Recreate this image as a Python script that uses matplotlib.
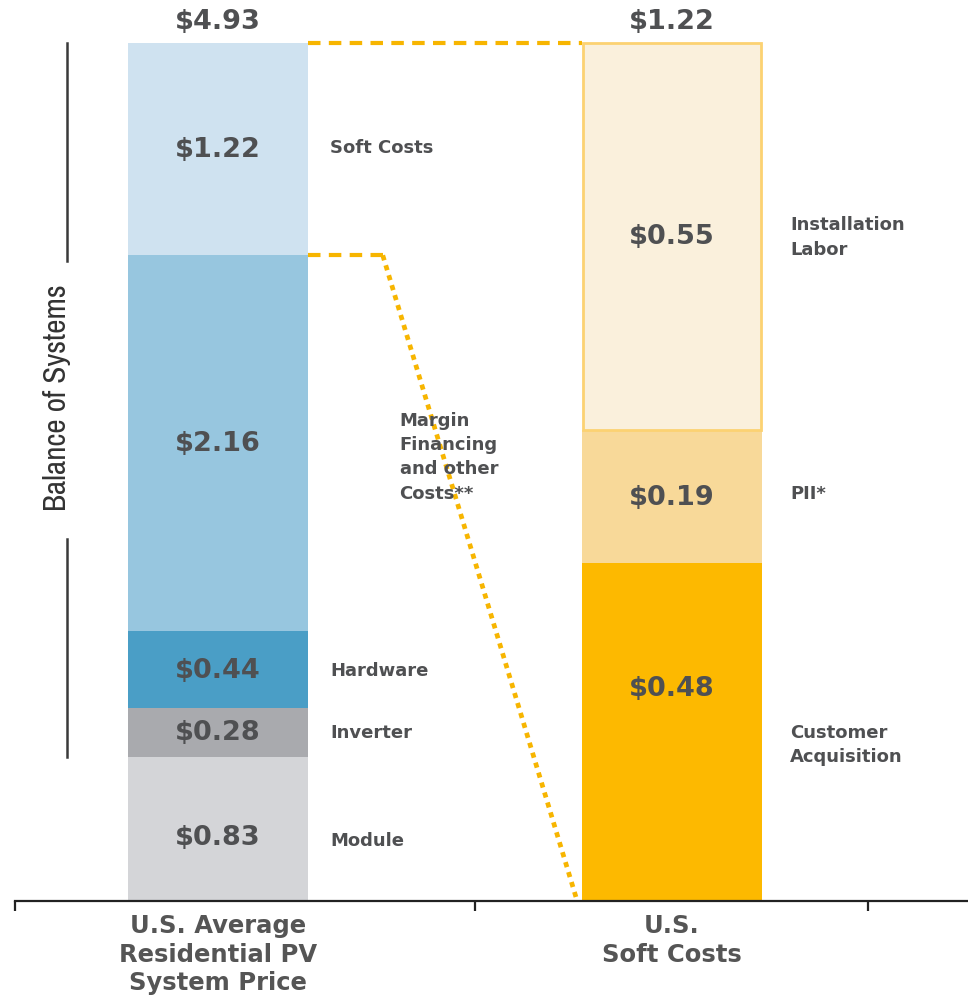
import matplotlib
matplotlib.use("Agg")
import matplotlib.pyplot as plt
from matplotlib import font_manager
import numpy as np

# ---- data ----
left_labels = ["Module", "Inverter", "Hardware", "Margin\nFinancing\nand other\nCosts**", "Soft Costs"]
left_values = [0.83, 0.28, 0.44, 2.16, 1.22]
right_labels = ["Customer\nAcquisition", "PII*", "Installation\nLabor"]
right_values = [0.48, 0.19, 0.55]
categories = ["U.S. Average\nResidential PV\nSystem Price", "U.S.\nSoft Costs"]
left_total = "$4.93"
right_total = "$1.22"

# ---- style ----
left_colors = ["#d4d5d8", "#a9aaae", "#4a9ec6", "#97c6df", "#cfe2f0"]
right_colors = ["#fdb900", "#f8d999", "#faf0dc"]
dash_color = "#f7b500"
text_color = "#4f5052"
bar_w = 0.396

# pick a narrow font for the rotated bracket label if available
available = sorted({f.name for f in font_manager.fontManager.ttflist})
narrow = [n for n in available if ("Narrow" in n or "Condensed" in n)]
if narrow:
    narrow_family, narrow_size = narrow[0], 22.5
elif "Roboto" in available:
    narrow_family, narrow_size = "Roboto", 19.5
else:
    narrow_family, narrow_size = "DejaVu Sans", 17

fig = plt.figure(figsize=(9.68, 10.03), dpi=100)
ax = fig.add_axes([15 / 968, 101 / 1003, 1 - 15 / 968, 902 / 1003])

total_left = sum(left_values)
scale_r = total_left / sum(right_values)
px_per_unit = 858 / total_left
ax.set_ylim(0, 902 / px_per_unit)
ax.set_xlim(-0.447, 1.652)

# left stacked bar
bottom = 0.0
left_bottoms = []
for v, c in zip(left_values, left_colors):
    ax.bar(0, v, bottom=bottom, width=bar_w, color=c, edgecolor="none", zorder=2)
    left_bottoms.append(bottom)
    bottom += v

# right stacked bar (scaled to same height)
bottom = 0.0
right_bottoms = []
for i, (v, c) in enumerate(zip(right_values, right_colors)):
    h = v * scale_r
    if i == 2:
        ax.bar(1, h, bottom=bottom, width=bar_w - 0.006, color=c,
               edgecolor="#fcd272", linewidth=2.0, zorder=2)
    else:
        ax.bar(1, h, bottom=bottom, width=bar_w, color=c, edgecolor="none", zorder=2)
    right_bottoms.append(bottom)
    bottom += h

val_fs = 19.5
lab_fs = 13

# left values & labels
left_val_frac = [0.44, 0.5, 0.5, 0.5, 0.5]
left_lab_frac = [0.42, 0.5, 0.5, 0.466, 0.51]
left_lab_x = [0.247, 0.247, 0.247, 0.40, 0.247]
for v, b, lab, fv, fl, lx in zip(left_values, left_bottoms, left_labels,
                                  left_val_frac, left_lab_frac, left_lab_x):
    ax.text(0, b + v * fv, f"${v:.2f}", ha="center", va="center",
            fontsize=val_fs, fontweight="bold", color=text_color, zorder=3)
    ax.text(lx, b + v * fl, lab, ha="left", va="center", fontsize=lab_fs,
            fontweight="bold", color=text_color, linespacing=1.45, zorder=3)

# right values & labels
right_val_frac = [0.63, 0.5, 0.5]
right_lab_frac = [0.465, 0.53, 0.5]
for v, b, lab, fv, fl in zip(right_values, right_bottoms, right_labels,
                             right_val_frac, right_lab_frac):
    h = v * scale_r
    ax.text(1, b + h * fv, f"${v:.2f}", ha="center", va="center",
            fontsize=val_fs, fontweight="bold", color=text_color, zorder=3)
    ax.text(1.26, b + h * fl, lab, ha="left", va="center", fontsize=lab_fs,
            fontweight="bold", color=text_color, linespacing=1.45, zorder=3)

# totals
ax.text(0, total_left + 22 / px_per_unit, left_total, ha="center", va="center",
        fontsize=val_fs, fontweight="bold", color=text_color)
ax.text(1, total_left + 22 / px_per_unit, right_total, ha="center", va="center",
        fontsize=val_fs, fontweight="bold", color=text_color)

# connector lines
soft_bottom = left_bottoms[-1]
ax.plot([bar_w / 2, 1 - bar_w / 2], [total_left, total_left], color=dash_color,
        lw=3, linestyle=(0, (3, 2)), zorder=1)
corner_x = 0.363
ax.plot([bar_w / 2, corner_x], [soft_bottom, soft_bottom], color=dash_color,
        lw=3, linestyle=(0, (3, 2)), zorder=1)
ax.plot([corner_x, 1 - bar_w / 2 - 0.012], [soft_bottom, 0.01], color=dash_color,
        lw=3.4, linestyle=(0, (1.1, 1.1)), zorder=1)

# Balance of Systems bracket
bos_x = -0.3326
bos_lo = left_values[0]
bos_mid = (bos_lo + total_left) / 2
gap = 0.80
ax.plot([bos_x, bos_x], [bos_mid + gap, total_left], color="#3a3a3a", lw=1.8)
ax.plot([bos_x, bos_x], [bos_lo, bos_mid - gap], color="#3a3a3a", lw=1.8)
ax.text(bos_x - 0.022, bos_mid + 0.02, "Balance of Systems", rotation=90,
        ha="center", va="center", fontsize=narrow_size, color="#333333",
        family=narrow_family)

# axes styling
for s in ["top", "right", "left"]:
    ax.spines[s].set_visible(False)
ax.spines["bottom"].set_linewidth(1.6)
ax.spines["bottom"].set_color("#222222")
ax.set_yticks([])
ax.set_xticks([0, 1])
ax.set_xticklabels(categories, fontsize=17.5, fontweight="bold", color="#555555",
                   linespacing=1.22)
ax.tick_params(axis="x", which="major", length=0, pad=9)
ax.set_xticks([-0.447, 0.566, 1.432], minor=True)
ax.tick_params(axis="x", which="minor", length=7, width=1.6, color="#222222",
               direction="out")

fig.savefig("out.png", dpi=100, facecolor="white")
